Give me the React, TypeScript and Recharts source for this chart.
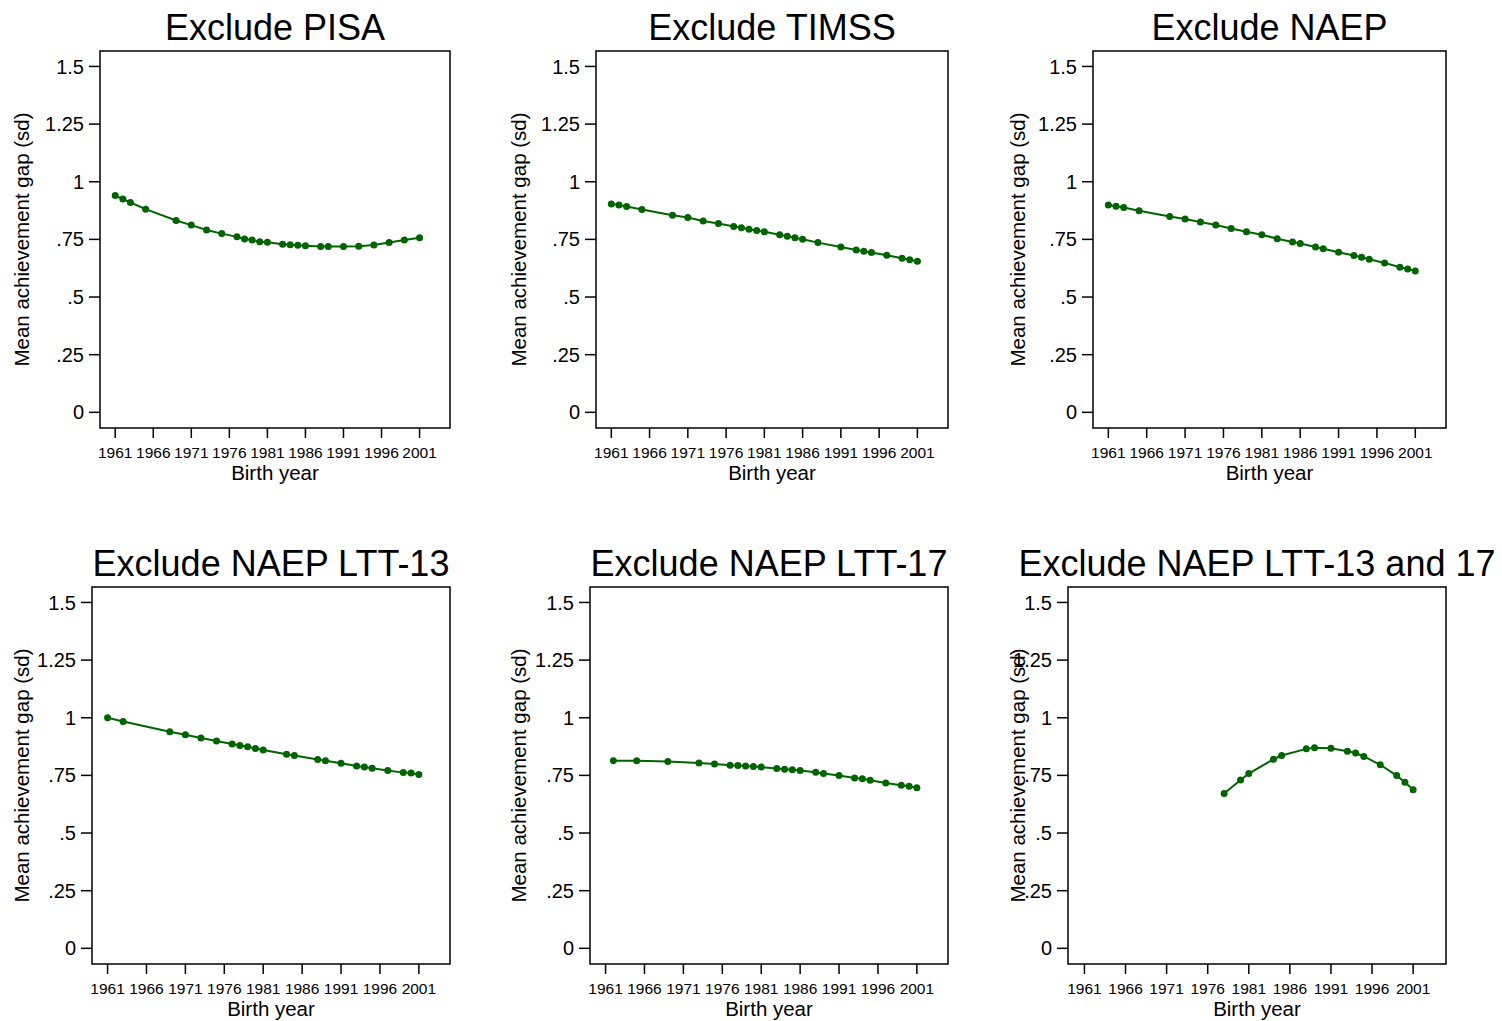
import { Label, Line, LineChart, ReferenceArea, XAxis, YAxis } from 'recharts';

const yearTicks = [1961, 1966, 1971, 1976, 1981, 1986, 1991, 1996, 2001];
const gapTicks = [0, 0.25, 0.5, 0.75, 1, 1.25, 1.5];

const pisaYears = [1961, 1962, 1963, 1965, 1969, 1971, 1973, 1975, 1977, 1978, 1979, 1980, 1981, 1983, 1984, 1985, 1986, 1988, 1989, 1991, 1993, 1995, 1997, 1999, 2001];
const pisaGap = [0.94, 0.925, 0.91, 0.881, 0.832, 0.812, 0.791, 0.775, 0.761, 0.752, 0.747, 0.74, 0.738, 0.729, 0.727, 0.725, 0.722, 0.719, 0.719, 0.719, 0.72, 0.726, 0.736, 0.747, 0.757];

const timssYears = [1961, 1962, 1963, 1965, 1969, 1971, 1973, 1975, 1977, 1978, 1979, 1980, 1981, 1983, 1984, 1985, 1986, 1988, 1991, 1993, 1994, 1995, 1997, 1999, 2000, 2001];
const timssGap = [0.904, 0.899, 0.893, 0.88, 0.855, 0.845, 0.83, 0.819, 0.806, 0.8, 0.794, 0.788, 0.783, 0.77, 0.764, 0.757, 0.751, 0.736, 0.717, 0.704, 0.699, 0.693, 0.681, 0.668, 0.662, 0.655];

const naepYears = [1961, 1962, 1963, 1965, 1969, 1971, 1973, 1975, 1977, 1979, 1981, 1983, 1985, 1986, 1988, 1989, 1991, 1993, 1994, 1995, 1997, 1999, 2000, 2001];
const naepGap = [0.899, 0.894, 0.888, 0.874, 0.849, 0.838, 0.825, 0.812, 0.797, 0.783, 0.77, 0.753, 0.739, 0.732, 0.717, 0.709, 0.694, 0.68, 0.673, 0.664, 0.648, 0.629, 0.622, 0.613];

const ltt13Years = [1961, 1963, 1969, 1971, 1973, 1975, 1977, 1978, 1979, 1980, 1981, 1984, 1985, 1988, 1989, 1991, 1993, 1994, 1995, 1997, 1999, 2000, 2001];
const ltt13Gap = [1.0, 0.984, 0.939, 0.926, 0.912, 0.899, 0.886, 0.88, 0.874, 0.867, 0.86, 0.842, 0.836, 0.819, 0.813, 0.803, 0.791, 0.786, 0.781, 0.771, 0.762, 0.76, 0.754];

const ltt17Years = [1962, 1965, 1969, 1973, 1975, 1977, 1978, 1979, 1980, 1981, 1983, 1984, 1985, 1986, 1988, 1989, 1991, 1993, 1994, 1995, 1997, 1999, 2000, 2001];
const ltt17Gap = [0.814, 0.813, 0.81, 0.804, 0.799, 0.794, 0.793, 0.791, 0.788, 0.786, 0.78, 0.777, 0.774, 0.771, 0.764, 0.758, 0.749, 0.739, 0.735, 0.729, 0.717, 0.707, 0.703, 0.696];

const bothYears = [1978, 1980, 1981, 1984, 1985, 1988, 1989, 1991, 1993, 1994, 1995, 1997, 1999, 2000, 2001];
const bothGap = [0.671, 0.73, 0.758, 0.82, 0.836, 0.865, 0.87, 0.868, 0.855, 0.847, 0.832, 0.796, 0.749, 0.72, 0.688];

const FONT = '"Liberation Sans", Arial, sans-serif';
const GREEN = '#006400';
const X_DOMAIN: [number, number] = [1959, 2005];
const Y_DOMAIN: [number, number] = [-0.068, 1.567];
const Y_AXIS_W = 90;
const TOP = 60;
const X_AXIS_H = 70;
const RIGHT = 10;

const panels = [
  { title: 'Exclude PISA', years: pisaYears, gap: pisaGap, left: 100, top: 51, w: 350, h: 377, yTitleX: 22 },
  { title: 'Exclude TIMSS', years: timssYears, gap: timssGap, left: 596, top: 51, w: 352, h: 377, yTitleX: 519 },
  { title: 'Exclude NAEP', years: naepYears, gap: naepGap, left: 1093, top: 51, w: 353, h: 377, yTitleX: 1018 },
  { title: 'Exclude NAEP LTT-13', years: ltt13Years, gap: ltt13Gap, left: 92, top: 587, w: 358, h: 377, yTitleX: 22 },
  { title: 'Exclude NAEP LTT-17', years: ltt17Years, gap: ltt17Gap, left: 590, top: 587, w: 358, h: 377, yTitleX: 519 },
  { title: 'Exclude NAEP LTT-13 and 17', years: bothYears, gap: bothGap, left: 1068, top: 587, w: 378, h: 377, yTitleX: 1018 },
];

// Stata-style labels: .25 instead of 0.25
const fmtGap = (v: number) => (v === 0 ? '0' : String(v).replace(/^0/, ''));

type PanelProps = (typeof panels)[number];

const Panel = ({ title, years, gap, left, top, w, h, yTitleX }: PanelProps) => {
  const rows = years.map((year, i) => ({ year, gap: gap[i] }));
  const chartLeft = left - Y_AXIS_W;
  const chartTop = top - TOP;

  return (
    <>
      <div
        style={{
          position: 'absolute',
          left: left - 100,
          width: w + 200,
          top: top - 41.5,
          textAlign: 'center',
          fontFamily: FONT,
          fontSize: 36,
          lineHeight: '36px',
          whiteSpace: 'nowrap',
          color: '#000',
        }}
      >
        {title}
      </div>
      <div style={{ position: 'absolute', left: chartLeft, top: chartTop }}>
        <LineChart
          width={Y_AXIS_W + w + RIGHT}
          height={TOP + h + X_AXIS_H}
          data={rows}
          margin={{ top: TOP, right: RIGHT, bottom: 0, left: 0 }}
          style={{ fontFamily: FONT }}
        >
          <XAxis
            dataKey="year"
            type="number"
            domain={X_DOMAIN}
            ticks={yearTicks}
            allowDataOverflow
            height={X_AXIS_H}
            axisLine={false}
            tickSize={10}
            tickMargin={9}
            tickLine={{ stroke: '#000', strokeWidth: 1.5 }}
            tick={{ fill: '#000', fontSize: 15.5 }}
          >
            <Label value="Birth year" position="insideBottom" offset={18} fill="#000" fontSize={20.5} />
          </XAxis>
          <YAxis
            type="number"
            domain={Y_DOMAIN}
            ticks={gapTicks}
            allowDataOverflow
            width={Y_AXIS_W}
            axisLine={false}
            tickSize={11}
            tickMargin={5}
            tickFormatter={fmtGap}
            tickLine={{ stroke: '#000', strokeWidth: 1.5 }}
            tick={{ fill: '#000', fontSize: 20 }}
          >
            <Label
              value="Mean achievement gap (sd)"
              angle={-90}
              position="insideLeft"
              offset={yTitleX - chartLeft}
              fill="#000"
              fontSize={20.5}
              style={{ textAnchor: 'middle' }}
            />
          </YAxis>
          <ReferenceArea
            x1={X_DOMAIN[0]}
            x2={X_DOMAIN[1]}
            y1={Y_DOMAIN[0]}
            y2={Y_DOMAIN[1]}
            fill="none"
            stroke="#000"
            strokeWidth={1.5}
            ifOverflow="visible"
          />
          <Line
            dataKey="gap"
            stroke={GREEN}
            strokeWidth={2}
            dot={{ r: 3.5, fill: GREEN, stroke: GREEN, strokeWidth: 0 }}
            isAnimationActive={false}
          />
        </LineChart>
      </div>
    </>
  );
};

export default function App() {
  return (
    <div style={{ position: 'absolute', left: 0, top: 0, width: 1502, height: 1021, background: '#fff' }}>
      {panels.map((p) => (
        <Panel key={p.title} {...p} />
      ))}
    </div>
  );
}
